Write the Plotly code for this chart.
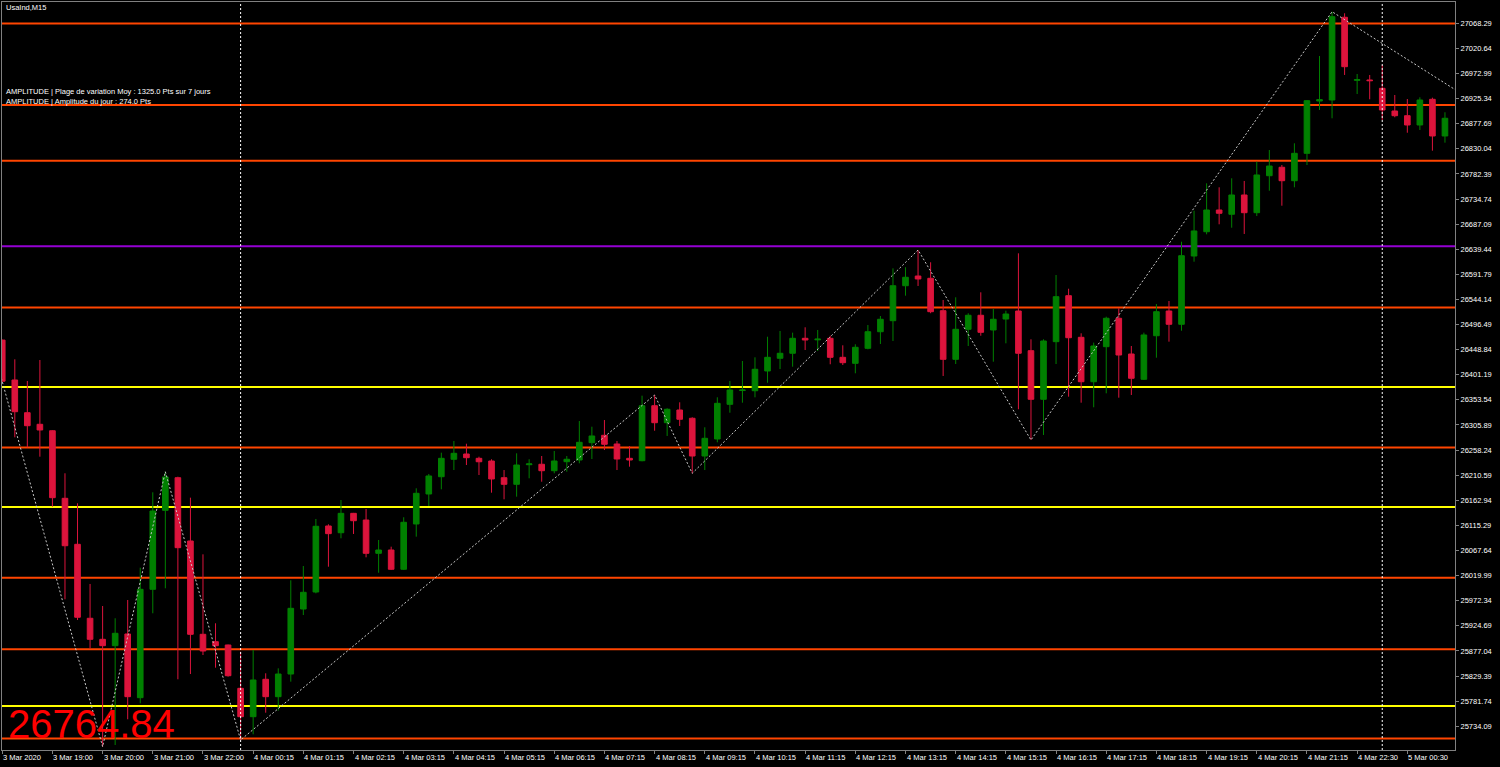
import plotly.graph_objects as go

# ---------------- data ----------------
opens = [26467, 26391.3, 26329.2, 26307.2, 26295.0, 26166.7, 26079.4, 25939.0, 25899.1, 25887.0,
         25909.2, 25788.3, 25994.0, 26143.9, 26205.8, 26085.7, 25908.6, 25894.6, 25888.3, 25806.1,
         25752.2, 25823.2, 25790.2, 25833.2, 25956.6, 25988.9, 26114.2, 26101.4, 26138.2, 26125.5,
         26062.3, 26068.6, 26032.0, 26118.0, 26174.9, 26207.7, 26240.8, 26250.8, 26242.6, 26237.5,
         26205.8, 26193.3, 26230.5, 26231.3, 26219.1, 26236.2, 26239.4, 26272.3, 26286.3, 26269.8,
         26242.6, 26238.1, 26342.5, 26310.2, 26334.3, 26318.6, 26247.0, 26279.3, 26345.1, 26371.3,
         26370.9, 26408.4, 26432.5, 26442.0, 26470.4, 26467.5, 26470.4, 26434.3, 26422.9, 26451.4,
         26482.9, 26503.8, 26570.2, 26588.6, 26584.3, 26522.8, 26430.5, 26487.5, 26514.1, 26486.2,
         26507.0, 26522.2, 26446.9, 26354.6, 26464.0, 26551.3, 26472.3, 26388.0, 26454.5, 26508.4,
         26440.6, 26392.6, 26475.3, 26522.2, 26497.0, 26626.6, 26672.7, 26713.9, 26705.8, 26742.4,
         26708.8, 26779.0, 26795.0, 26769.5, 26821.5, 26920.8, 26922.7, 27079.7, 26960.1, 26960.7,
         26944.9, 26901.8, 26892.9, 26875.3, 26924.0, 26854.4]
highs = [26468, 26430.5, 26389.4, 26429.2, 26296.0, 26214.2, 26157.2, 26004.1, 25962.3, 25939.0,
         25973.7, 26035.0, 26178.1, 26217.2, 26207.7, 26167.9, 26060.4, 25929.5, 25889.0, 25875.6,
         25878.8, 25834.6, 25844.0, 26011.1, 26038.2, 26127.5, 26117.4, 26163.5, 26139.0, 26146.4,
         26087.6, 26074.9, 26130.7, 26185.7, 26212.9, 26253.3, 26275.5, 26270.3, 26245.7, 26240.8,
         26220.4, 26252.1, 26240.8, 26247.0, 26256.5, 26247.0, 26313.4, 26302.6, 26315.3, 26275.5,
         26266.0, 26361.5, 26362.8, 26337.6, 26348.9, 26320.5, 26301.5, 26358.4, 26389.4, 26427.3,
         26434.3, 26473.4, 26484.3, 26481.1, 26491.3, 26486.2, 26475.3, 26457.1, 26459.0, 26495.6,
         26512.7, 26603.2, 26605.2, 26638.0, 26614.7, 26543.1, 26548.2, 26517.9, 26557.7, 26526.0,
         26522.8, 26631.7, 26468.5, 26468.5, 26590.5, 26564.5, 26479.9, 26462.2, 26511.4, 26527.3,
         26455.8, 26481.1, 26535.5, 26541.2, 26653.7, 26712.6, 26764.6, 26757.0, 26774.1, 26769.0,
         26805.6, 26827.8, 26799.3, 26840.5, 26922.7, 27006.2, 27090.3, 27087.3, 26972.0, 26970.2,
         26989.1, 26932.2, 26924.6, 26927.8, 26927.1, 26899.4]
lows = [26388, 26282.5, 26263.5, 26245.7, 26150.8, 25975.0, 25935.7, 25882.0, 25695.3, 25698.5,
        25747.3, 25777.7, 25948.5, 25995.9, 25823.2, 25833.2, 25869.3, 25845.2, 25828.1, 25708.0,
        25718.8, 25759.8, 25763.6, 25818.7, 25945.2, 25986.4, 26036.9, 26090.8, 26099.0, 26054.7,
        26025.5, 26030.6, 26030.6, 26093.9, 26152.1, 26183.8, 26220.4, 26229.9, 26210.9, 26177.4,
        26164.8, 26169.8, 26204.7, 26198.2, 26214.2, 26217.2, 26233.2, 26241.3, 26258.4, 26220.4,
        26226.7, 26237.0, 26295.0, 26285.0, 26304.0, 26214.2, 26220.4, 26273.0, 26329.2, 26348.2,
        26358.4, 26386.1, 26412.1, 26416.5, 26448.2, 26446.3, 26421.1, 26419.7, 26404.0, 26449.5,
        26459.6, 26465.3, 26551.3, 26569.7, 26518.0, 26398.9, 26421.6, 26455.8, 26475.3, 26426.0,
        26460.9, 26335.7, 26277.4, 26286.9, 26421.6, 26359.6, 26348.2, 26339.5, 26366.0, 26357.7,
        26362.8, 26391.3, 26433.6, 26464.0, 26484.8, 26615.8, 26667.8, 26686.8, 26680.3, 26668.4,
        26702.5, 26750.5, 26722.1, 26757.0, 26799.3, 26903.7, 26888.0, 26970.2, 26934.1, 26924.0,
        26884.7, 26889.9, 26860.6, 26865.8, 26826.5, 26841.7]
closes = [26389, 26331.1, 26304.5, 26296.4, 26167.9, 26076.7, 25940.9, 25899.1, 25887.0, 25910.5,
          25790.2, 25994.0, 26142.6, 26207.2, 26073.0, 25908.6, 25876.9, 25887.0, 25830.0, 25752.2,
          25821.9, 25790.2, 25833.2, 25957.9, 25988.3, 26113.6, 26099.6, 26138.2, 26124.2, 26062.3,
          26068.6, 26032.0, 26121.2, 26176.2, 26209.1, 26242.6, 26252.1, 26243.8, 26236.1, 26203.4,
          26193.3, 26229.9, 26232.0, 26219.1, 26237.5, 26240.8, 26273.0, 26285.0, 26269.2, 26241.3,
          26239.4, 26342.5, 26310.2, 26335.7, 26316.7, 26247.0, 26280.6, 26347.0, 26372.3, 26372.3,
          26411.6, 26434.3, 26442.0, 26470.4, 26467.2, 26468.8, 26434.3, 26424.1, 26453.3, 26482.9,
          26506.5, 26570.2, 26586.2, 26583.0, 26520.9, 26430.5, 26487.5, 26514.1, 26481.8, 26506.5,
          26516.5, 26442.0, 26354.6, 26465.3, 26549.4, 26471.5, 26388.0, 26455.8, 26508.4, 26438.7,
          26394.5, 26476.7, 26520.9, 26497.0, 26627.2, 26674.1, 26713.9, 26707.7, 26742.4, 26708.8,
          26780.4, 26797.4, 26769.5, 26821.5, 26921.4, 26923.3, 27080.8, 26985.9, 26961.2, 26959.4,
          26903.7, 26892.9, 26875.3, 26922.7, 26854.4, 26888.0]
bar_index = list(range(len(opens)))

# time labels (every 4 bars)
time_tick_index = list(range(0, 113, 4))
time_tick_labels = ["3 Mar 2020", "3 Mar 19:00", "3 Mar 20:00", "3 Mar 21:00", "3 Mar 22:00",
                    "4 Mar 00:15", "4 Mar 01:15", "4 Mar 02:15", "4 Mar 03:15", "4 Mar 04:15",
                    "4 Mar 05:15", "4 Mar 06:15", "4 Mar 07:15", "4 Mar 08:15", "4 Mar 09:15",
                    "4 Mar 10:15", "4 Mar 11:15", "4 Mar 12:15", "4 Mar 13:15", "4 Mar 14:15",
                    "4 Mar 15:15", "4 Mar 16:15", "4 Mar 17:15", "4 Mar 18:15", "4 Mar 19:15",
                    "4 Mar 20:15", "4 Mar 21:15", "4 Mar 22:30", "5 Mar 00:30"]

# price scale labels
price_ticks = [27068.29, 27020.64, 26972.99, 26925.34, 26877.69, 26830.04, 26782.39, 26734.74,
               26687.09, 26639.44, 26591.79, 26544.14, 26496.49, 26448.84, 26401.19, 26353.54,
               26305.89, 26258.24, 26210.59, 26162.94, 26115.29, 26067.64, 26019.99, 25972.34,
               25924.69, 25877.04, 25829.39, 25781.74, 25734.09]

# horizontal levels
levels_orange = [27068.0, 26913.0, 26807.5, 26529.0, 26263.0, 26016.0, 25880.0, 25711.0]
levels_yellow = [26378.0, 26150.0, 25772.5]
levels_purple = [26645.0]

# zigzag pivots (bar index, price)
zigzag_index = [-1, 8, 13, 19, 52, 55, 73, 82, 106, 118]
zigzag_price = [26475.0, 25695.3, 26217.2, 25708.0, 26362.8, 26214.2, 26638.0, 26277.4, 27090.3, 26909.3]

# period separators (bar index)
separator_index = [19, 110]

symbol_text = "UsaInd,M15"
info_lines = ["AMPLITUDE | Plage de variation Moy : 1325.0 Pts sur 7 jours",
              "AMPLITUDE | Amplitude du jour : 274.0 Pts"]
big_price_text = "26764.84"

# ---------------- figure ----------------
W, H = 1500, 767
ML, MR, MT, MB = 2, 45, 2, 17
small_font = dict(family="Liberation Sans, Arial, sans-serif", size=7.5, color="#FFFFFF")

fig = go.Figure()

fig.add_trace(go.Scatter(
    x=zigzag_index, y=zigzag_price, mode="lines",
    line=dict(color="#C8C8C8", width=1, dash="2px,2px"),
    hoverinfo="skip", showlegend=False))

fig.add_trace(go.Candlestick(
    x=bar_index, open=opens, high=highs, low=lows, close=closes,
    increasing=dict(line=dict(color="#008000", width=1), fillcolor="#008000"),
    decreasing=dict(line=dict(color="#DC143C", width=1), fillcolor="#DC143C"),
    whiskerwidth=0, showlegend=False))

shapes = []
for lv in levels_orange:
    shapes.append(dict(type="line", xref="paper", x0=0, x1=1, yref="y", y0=lv, y1=lv,
                       line=dict(color="#FF4500", width=2), layer="below"))
for lv in levels_yellow:
    shapes.append(dict(type="line", xref="paper", x0=0, x1=1, yref="y", y0=lv, y1=lv,
                       line=dict(color="#FFFF00", width=2), layer="below"))
for lv in levels_purple:
    shapes.append(dict(type="line", xref="paper", x0=0, x1=1, yref="y", y0=lv, y1=lv,
                       line=dict(color="#9400D3", width=2), layer="below"))
for sx in separator_index:
    shapes.append(dict(type="line", xref="x", x0=sx, x1=sx, yref="paper", y0=0, y1=1,
                       line=dict(color="#FFFFFF", width=1, dash="2px,2px"), layer="above"))

annotations = []
for ti, tl in zip(time_tick_index, time_tick_labels):
    annotations.append(dict(x=ti, xref="x", y=0, yref="paper", text=tl, showarrow=False,
                            xanchor="left", yanchor="top", yshift=-2, borderpad=0,
                            font=small_font))
annotations.append(dict(x=0.002, xref="paper", y=0.9933, yref="paper", text=symbol_text,
                        showarrow=False, xanchor="left", yanchor="middle", borderpad=0,
                        font=small_font))
for k, t in enumerate(info_lines):
    annotations.append(dict(x=0.002, xref="paper", y=[0.8804, 0.8676][k], yref="paper", text=t,
                            showarrow=False, xanchor="left", yanchor="middle", borderpad=0,
                            font=small_font))
annotations.append(dict(x=0.0035, xref="paper", y=0.035, yref="paper", text=big_price_text,
                        showarrow=False, xanchor="left", yanchor="middle", borderpad=0,
                        font=dict(family="Liberation Sans, Arial, sans-serif", size=40,
                                  color="#FF0000")))

fig.update_layout(
    width=W, height=H,
    paper_bgcolor="#000000", plot_bgcolor="#000000",
    margin=dict(l=ML, r=MR, t=MT, b=MB, pad=0),
    boxgap=0.36,
    showlegend=False,
    shapes=shapes, annotations=annotations,
    xaxis=dict(range=[-0.02, 115.8], showgrid=False, zeroline=False,
               rangeslider=dict(visible=False),
               tickvals=time_tick_index, ticktext=[""] * len(time_tick_index),
               ticks="outside", ticklen=3, tickcolor="#808080",
               showline=True, linecolor="#808080", linewidth=1, mirror=True),
    yaxis=dict(range=[25689.0, 27108.7], side="right", showgrid=False, zeroline=False,
               tickvals=price_ticks, ticktext=[f"{v:.2f}" for v in price_ticks],
               ticks="outside", ticklen=3, tickcolor="#808080",
               tickfont=small_font,
               showline=True, linecolor="#808080", linewidth=1, mirror=True),
)

fig.write_html("out.html", config={"displayModeBar": False},
               post_script="document.body.style.margin='0';document.body.style.overflow='hidden';")
